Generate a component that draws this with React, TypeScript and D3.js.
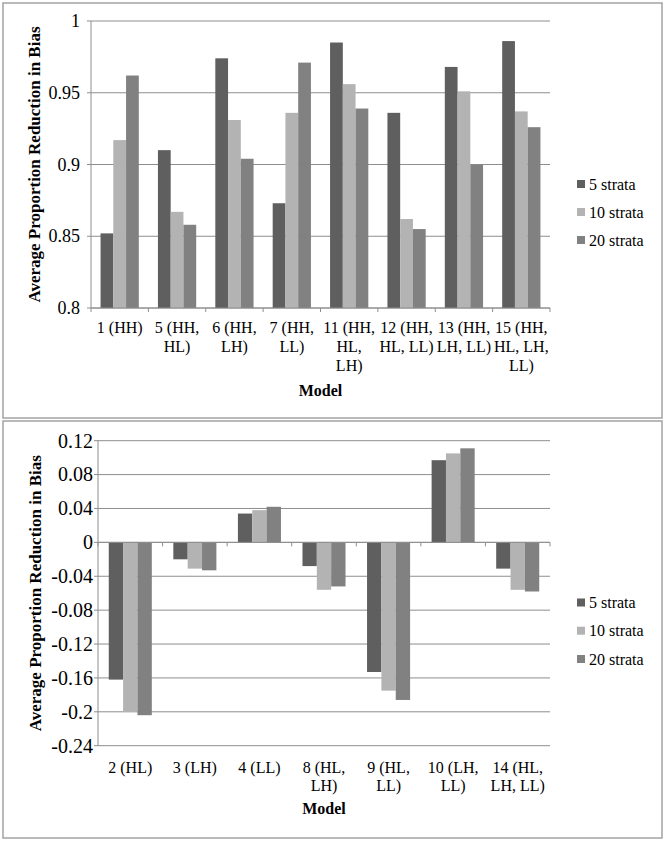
import React from "react";
import * as d3 from "d3";

const seriesNames = ["5 strata", "10 strata", "20 strata"];
const seriesColors = ["#5f5f5f", "#b3b3b3", "#818181"];

// Top chart
const topCategories = [
  ["1 (HH)"],
  ["5 (HH,", "HL)"],
  ["6 (HH,", "LH)"],
  ["7 (HH,", "LL)"],
  ["11 (HH,", "HL,", "LH)"],
  ["12 (HH,", "HL, LL)"],
  ["13 (HH,", "LH, LL)"],
  ["15 (HH,", "HL, LH,", "LL)"],
];
const top5 = [0.852, 0.91, 0.974, 0.873, 0.985, 0.936, 0.968, 0.986];
const top10 = [0.917, 0.867, 0.931, 0.936, 0.956, 0.862, 0.951, 0.937];
const top20 = [0.962, 0.858, 0.904, 0.971, 0.939, 0.855, 0.9, 0.926];
const topTicks = [0.8, 0.85, 0.9, 0.95, 1];
const topTickLabels = ["0.8", "0.85", "0.9", "0.95", "1"];

// Bottom chart
const bottomCategories = [
  ["2 (HL)"],
  ["3 (LH)"],
  ["4 (LL)"],
  ["8 (HL,", "LH)"],
  ["9 (HL,", "LL)"],
  ["10 (LH,", "LL)"],
  ["14 (HL,", "LH, LL)"],
];
const bottom5 = [-0.162, -0.02, 0.034, -0.028, -0.153, 0.097, -0.031];
const bottom10 = [-0.2, -0.031, 0.038, -0.056, -0.175, 0.105, -0.056];
const bottom20 = [-0.204, -0.033, 0.042, -0.052, -0.186, 0.111, -0.058];
const bottomTicks = [0.12, 0.08, 0.04, 0, -0.04, -0.08, -0.12, -0.16, -0.2, -0.24];
const bottomTickLabels = ["0.12", "0.08", "0.04", "0", "-0.04", "-0.08", "-0.12", "-0.16", "-0.2", "-0.24"];

const FONT = "'Liberation Serif', 'Times New Roman', Times, serif";
const GRID = "#8e8e8e";

type Rect = { left: number; right: number; top: number; bottom: number };

function Panel(props: {
  box: Rect;
  plot: Rect;
  categories: string[][];
  values: number[][];
  domain: [number, number];
  ticks: number[];
  tickLabels: string[];
  tickFont: number;
  tickLabelX: number;
  xLabelY: number;
  modelY: number;
  titleX: number;
  legendY: number[];
}) {
  const { box, plot, categories, values, domain, ticks, tickLabels, tickFont, tickLabelX, xLabelY, modelY, titleX, legendY } = props;
  const x = d3
    .scaleBand<string>()
    .domain(categories.map((_, i) => String(i)))
    .range([plot.left, plot.right])
    .paddingInner(1 / 3)
    .paddingOuter(1 / 6);
  const xs = d3.scaleBand<string>().domain(seriesNames).range([0, x.bandwidth()]);
  const y = d3.scaleLinear().domain(domain).range([plot.bottom, plot.top]);
  const baseVal = Math.max(domain[0], Math.min(domain[1], 0));
  const base = y(baseVal);
  const step = x.step();
  const boundaries = d3.range(categories.length + 1).map((i) => plot.left + i * step);
  const midY = (plot.top + plot.bottom) / 2;
  const midX = (plot.left + plot.right) / 2;

  return (
    <g>
      <rect
        x={box.left}
        y={box.top}
        width={box.right - box.left}
        height={box.bottom - box.top}
        fill="#fff"
        stroke="#a3a3a3"
        strokeWidth={1.5}
      />
      {ticks.map((t, i) => (
        <line key={"g" + i} x1={plot.left} x2={plot.right} y1={y(t)} y2={y(t)} stroke={GRID} strokeWidth={1} />
      ))}
      {values.map((ser, si) =>
        ser.map((v, ci) => {
          const y0 = y(v);
          return (
            <rect
              key={`b${si}-${ci}`}
              x={(x(String(ci)) as number) + (xs(seriesNames[si]) as number)}
              y={Math.min(y0, base)}
              width={xs.bandwidth()}
              height={Math.abs(base - y0)}
              fill={seriesColors[si]}
            />
          );
        })
      )}
      <line x1={plot.left} x2={plot.left} y1={plot.top} y2={plot.bottom} stroke={GRID} strokeWidth={1} />
      {ticks.map((t, i) => (
        <line key={"yt" + i} x1={plot.left - 4} x2={plot.left} y1={y(t)} y2={y(t)} stroke={GRID} strokeWidth={1} />
      ))}
      <line x1={plot.left} x2={plot.right} y1={base} y2={base} stroke={GRID} strokeWidth={1} />
      {boundaries.map((b, i) => (
        <line key={"xt" + i} x1={b} x2={b} y1={base} y2={base + 4} stroke={GRID} strokeWidth={1} />
      ))}
      {ticks.map((t, i) => (
        <text
          key={"yl" + i}
          x={tickLabelX}
          y={y(t) + tickFont * 0.34}
          textAnchor="end"
          fontFamily={FONT}
          fontSize={tickFont}
          fill="#000"
        >
          {tickLabels[i]}
        </text>
      ))}
      {categories.map((lines, ci) => (
        <text
          key={"xl" + ci}
          textAnchor="middle"
          fontFamily={FONT}
          fontSize={16}
          fill="#000"
        >
          {lines.map((ln, li) => (
            <tspan key={li} x={(x(String(ci)) as number) + x.bandwidth() / 2} y={xLabelY + li * 18.8}>
              {ln}
            </tspan>
          ))}
        </text>
      ))}
      <text x={midX} y={modelY} textAnchor="middle" fontFamily={FONT} fontSize={16} fontWeight="bold" fill="#000">
        Model
      </text>
      <text
        transform={`translate(${titleX},${midY}) rotate(-90)`}
        textAnchor="middle"
        fontFamily={FONT}
        fontSize={17}
        fontWeight="bold"
        fill="#000"
      >
        Average Proportion Reduction in Bias
      </text>
      {seriesNames.map((s, si) => (
        <g key={"lg" + si}>
          <rect x={577} y={legendY[si] - 4} width={8} height={8} fill={seriesColors[si]} />
          <text x={589} y={legendY[si] + 5.5} fontFamily={FONT} fontSize={16} fill="#000">
            {s}
          </text>
        </g>
      ))}
    </g>
  );
}

export default function App() {
  return (
    <div style={{ position: "absolute", left: 0, top: 0 }}>
      <svg width={666} height={842} viewBox="0 0 666 842" style={{ display: "block", background: "#fff" }}>
        <Panel
          box={{ left: 3, right: 662, top: 3, bottom: 418 }}
          plot={{ left: 91, right: 550, top: 21, bottom: 308 }}
          categories={topCategories}
          values={[top5, top10, top20]}
          domain={[0.8, 1]}
          ticks={topTicks}
          tickLabels={topTickLabels}
          tickFont={18}
          tickLabelX={80}
          xLabelY={333}
          modelY={396}
          titleX={40}
          legendY={[184, 212, 240]}
        />
        <Panel
          box={{ left: 3, right: 662, top: 421, bottom: 838 }}
          plot={{ left: 98, right: 550, top: 440.7, bottom: 745.7 }}
          categories={bottomCategories}
          values={[bottom5, bottom10, bottom20]}
          domain={[-0.24, 0.12]}
          ticks={bottomTicks}
          tickLabels={bottomTickLabels}
          tickFont={20}
          tickLabelX={93}
          xLabelY={772.5}
          modelY={814}
          titleX={41}
          legendY={[602.5, 630.7, 659]}
        />
      </svg>
    </div>
  );
}
